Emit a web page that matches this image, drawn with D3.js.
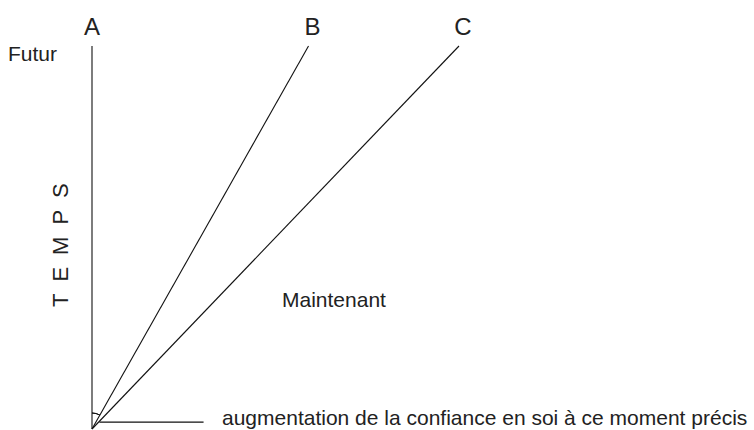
<!DOCTYPE html>
<html>
<head>
<meta charset="utf-8">
<script src="https://cdn.jsdelivr.net/npm/d3@7"></script>
<style>
  body { margin: 0; background: #fff; }
  text { font-family: "Liberation Sans", Arial, Helvetica, sans-serif; fill: #222; }
</style>
</head>
<body>
<div id="chart"></div>
<script>
// line names and where each one ends (confidence at the top of the time axis)
var names = ['A', 'B', 'C'];
var confidence = [0, 5.9, 10];
var timeTop = 10;
var nowLabel = 'Maintenant';
var futureLabel = 'Futur';
var timeLabel = 'TEMPS';
var baseLabel = 'augmentation de la confiance en soi à ce moment précis';

var width = 754;
var height = 430;

var x = d3.scaleLinear().domain([0, 10]).range([92, 459]);
var y = d3.scaleLinear().domain([0, 10]).range([429, 46]);

var svg = d3.select('#chart').append('svg')
    .attr('width', width)
    .attr('height', height);

// the three lines out of the origin
svg.selectAll('line.ray').data(confidence)
  .enter().append('line')
    .attr('class', 'ray')
    .attr('x1', x(0))
    .attr('y1', y(0))
    .attr('x2', function(d){ return x(d); })
    .attr('y2', y(timeTop))
    .attr('stroke', '#111')
    .attr('stroke-width', 1.1);

svg.selectAll('text.name').data(names)
  .enter().append('text')
    .attr('class', 'name')
    .attr('x', function(d, i){ return x(confidence[i]) + (i ? 4 : 0); })
    .attr('y', 35)
    .attr('text-anchor', 'middle')
    .attr('font-size', 24)
    .text(function(d){ return d; });

// base line
svg.append('line')
    .attr('x1', x(0.2))
    .attr('x2', x(3.04))
    .attr('y1', y(0.18))
    .attr('y2', y(0.18))
    .attr('stroke', '#111')
    .attr('stroke-width', 1.1);

// little angle mark between A and B
var angleB = Math.atan2(x(confidence[1]) - x(0), y(0) - y(timeTop));
svg.append('path')
    .attr('transform', 'translate(' + x(0) + ',' + y(0) + ')')
    .attr('d', d3.arc()({innerRadius: 16, outerRadius: 16, startAngle: 0, endAngle: angleB}))
    .attr('fill', 'none')
    .attr('stroke', '#111')
    .attr('stroke-width', 1);

svg.append('text')
    .attr('x', 8)
    .attr('y', 61)
    .attr('font-size', 21)
    .text(futureLabel);

svg.append('text')
    .attr('transform', 'translate(68,307) rotate(-90)')
    .attr('font-size', 22)
    .attr('letter-spacing', '12px')
    .text(timeLabel);

svg.append('text')
    .attr('x', 282)
    .attr('y', 307)
    .attr('font-size', 21)
    .text(nowLabel);

svg.append('text')
    .attr('x', 222)
    .attr('y', 425)
    .attr('font-size', 21)
    .text(baseLabel);
</script>
</body>
</html>
